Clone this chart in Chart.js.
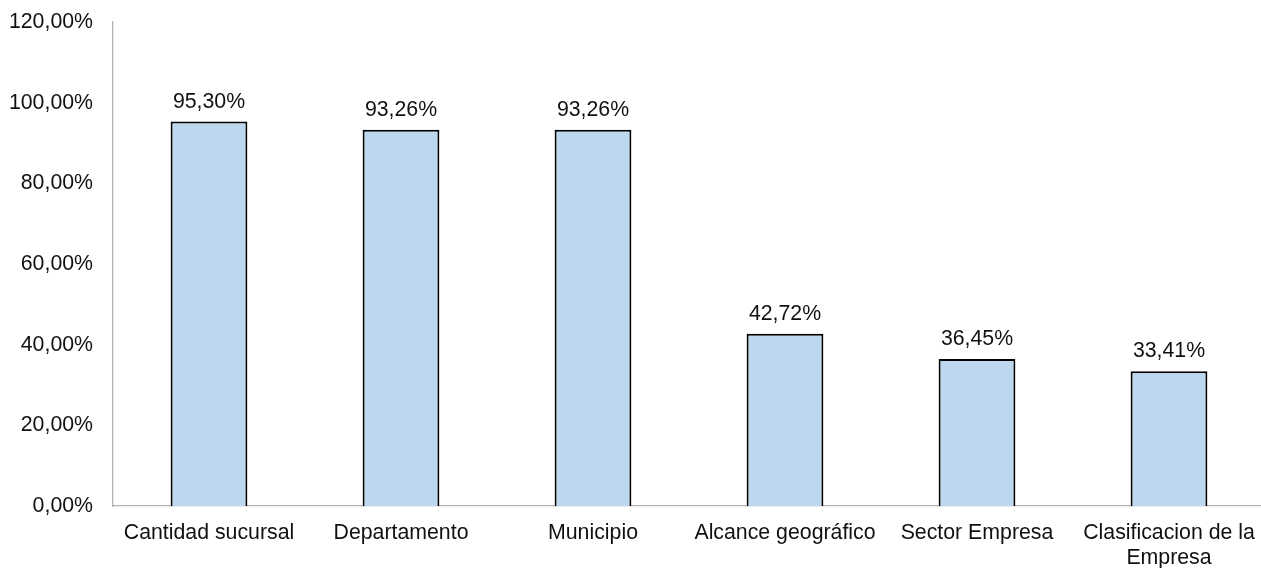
<!DOCTYPE html>
<html>
<head>
<meta charset="utf-8">
<script src="https://cdn.jsdelivr.net/npm/chart.js@4/dist/chart.umd.min.js"></script>
<style>
  html, body { margin: 0; padding: 0; background: #fff; overflow: hidden; }
  canvas { display: block; }
</style>
</head>
<body>
<canvas id="c" width="1265" height="568" style="width:1265px;height:568px"></canvas>
<script>
const categories = ['Cantidad sucursal', 'Departamento', 'Municipio', 'Alcance geográfico', 'Sector Empresa', ['Clasificacion de la', 'Empresa']];
const values = [95.30, 93.26, 93.26, 42.72, 36.45, 33.41];
const yTicks = [0, 20, 40, 60, 80, 100, 120];

const FONT = '"Liberation Sans", Arial, sans-serif';
const fmt = v => v.toFixed(2).replace('.', ',') + '%';

const labelPlugin = {
  id: 'barLabels',
  afterDatasetsDraw(chart) {
    const ctx = chart.ctx;
    const meta = chart.getDatasetMeta(0);
    ctx.save();
    ctx.font = '21.3px ' + FONT;
    ctx.fillStyle = '#111';
    ctx.textAlign = 'center';
    ctx.textBaseline = 'alphabetic';
    meta.data.forEach((bar, i) => {
      ctx.fillText(fmt(values[i]), bar.x, bar.y - 14);
    });
    ctx.restore();
  }
};

new Chart(document.getElementById('c'), {
  type: 'bar',
  data: {
    labels: categories,
    datasets: [{
      data: values,
      backgroundColor: '#BDD7EE',
      borderColor: '#000',
      borderWidth: 2,
      categoryPercentage: 1,
      barPercentage: 0.4
    }]
  },
  options: {
    responsive: false,
    animation: false,
    layout: { padding: { top: 22, left: 0, right: 0, bottom: 0 } },
    plugins: { legend: { display: false }, tooltip: { enabled: false } },
    scales: {
      x: {
        grid: { display: false, drawTicks: false },
        border: { display: true, color: '#b3b3b3', width: 1.3 },
        ticks: {
          color: '#111',
          font: { family: FONT, size: 21.3, lineHeight: 1.2 },
          padding: 14,
          maxRotation: 0,
          autoSkip: false
        },
        afterFit(s) { s.height = 62; s.paddingLeft = 0; s.paddingRight = 0; }
      },
      y: {
        min: 0,
        max: 120,
        afterBuildTicks(s) { s.ticks = yTicks.map(v => ({ value: v })); },
        grid: { display: false, drawTicks: false },
        border: { display: true, color: '#b3b3b3', width: 1.3 },
        ticks: {
          color: '#111',
          font: { family: FONT, size: 21.3, lineHeight: 1.2 },
          padding: 20,
          callback: v => fmt(v)
        },
        afterFit(s) { s.width = 113; s.paddingTop = 0; s.paddingBottom = 0; }
      }
    }
  },
  plugins: [labelPlugin]
});
</script>
</body>
</html>
